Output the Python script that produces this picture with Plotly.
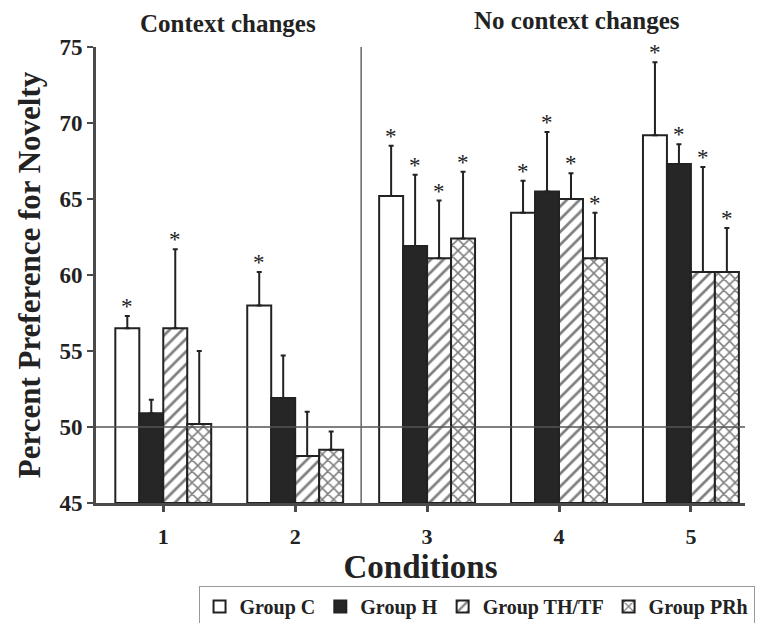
import plotly.graph_objects as go

conditions = [1, 2, 3, 4, 5]
tick_labels = ["1", "2", "3", "4", "5"]
groups = ["Group C", "Group H", "Group TH/TF", "Group PRh"]

group_c = [56.5, 58.0, 65.2, 64.1, 69.2]
group_h = [50.9, 51.9, 61.9, 65.5, 67.3]
group_th = [56.5, 48.1, 61.1, 65.0, 60.2]
group_prh = [50.2, 48.5, 62.4, 61.1, 60.2]

err_c = [0.8, 2.2, 3.3, 2.1, 4.8]
err_h = [0.9, 2.8, 4.7, 3.9, 1.3]
err_th = [5.2, 2.9, 3.8, 1.7, 6.9]
err_prh = [4.8, 1.2, 4.4, 3.0, 2.9]

sig_c = [True, True, True, True, True]
sig_h = [False, False, True, True, True]
sig_th = [True, False, True, True, True]
sig_prh = [False, False, True, True, True]

values = [group_c, group_h, group_th, group_prh]
errors = [err_c, err_h, err_th, err_prh]
sigs = [sig_c, sig_h, sig_th, sig_prh]

FONT = "Liberation Serif"
DARK = "#222222"
AX = "#4a4a4a"
BARGAP = 0.273
n = len(groups)
bw = (1 - BARGAP) / n

styles = [
    dict(color="white", pattern=None),
    dict(color="#262626", pattern=None),
    dict(color="white", pattern=dict(shape="/", fgcolor="#000000", bgcolor="white", size=9, solidity=0.3)),
    dict(color="white", pattern=dict(shape="x", fgcolor="#000000", bgcolor="white", size=8, solidity=0.35)),
]

fig = go.Figure()
for i, g in enumerate(groups):
    marker = dict(color=styles[i]["color"], line=dict(color=DARK, width=2))
    if styles[i]["pattern"]:
        marker["pattern"] = styles[i]["pattern"]
    fig.add_trace(go.Bar(
        x=conditions, y=[v - 45 for v in values[i]], base=45, name=g,
        marker=marker,
        error_y=dict(type="data", symmetric=False, array=errors[i],
                     arrayminus=[0] * len(conditions), color=DARK, thickness=2, width=2.5),
    ))

# significance stars above the error bars
for i in range(n):
    off = (i - (n - 1) / 2) * bw
    for j, c in enumerate(conditions):
        if sigs[i][j]:
            fig.add_annotation(x=c + off, y=values[i][j] + errors[i][j], text="*",
                               showarrow=False, xanchor="center", yanchor="bottom", yshift=-5,
                               font=dict(family=FONT, size=23, color=DARK))

fig.add_shape(type="line", xref="paper", yref="y", x0=0, x1=1, y0=50, y1=50,
              line=dict(color="#555555", width=1.5))
fig.add_shape(type="line", xref="x", yref="paper", x0=2.5, x1=2.5, y0=0, y1=1,
              line=dict(color="#666666", width=1.5))

fig.add_annotation(text="Context changes", xref="paper", yref="paper", x=0.203, y=1.052,
                   xanchor="center", yanchor="middle", showarrow=False,
                   font=dict(family=FONT, size=25, color=DARK, weight="bold"))
fig.add_annotation(text="No context changes", xref="paper", yref="paper", x=0.741, y=1.059,
                   xanchor="center", yanchor="middle", showarrow=False,
                   font=dict(family=FONT, size=25, color=DARK, weight="bold"))

# page body has an 8px margin, so the figure is drawn 8px smaller and shifted
fig.update_layout(
    width=755, height=615,
    margin=dict(l=88, r=18, t=39, b=120, autoexpand=False),
    paper_bgcolor="white", plot_bgcolor="white",
    barmode="group", bargap=BARGAP, bargroupgap=0,
    font=dict(family=FONT, color=DARK),
    legend=dict(orientation="h", x=0.158, y=-0.182, xanchor="left", yanchor="top",
                bordercolor="#999999", borderwidth=1,
                font=dict(family=FONT, size=20, color=DARK, weight="bold"),
                itemwidth=30, tracegroupgap=0),
    xaxis=dict(range=[0.49, 5.41], tickvals=conditions, ticktext=tick_labels,
               showline=True, linecolor=AX, linewidth=3, showgrid=False, zeroline=False,
               ticks="outside", ticklen=6, tickwidth=3, tickcolor=AX, ticklabelstandoff=6,
               tickfont=dict(family=FONT, size=22, color=DARK, weight="bold"),
               title=dict(text="Conditions", font=dict(family=FONT, size=33, color=DARK, weight="bold"),
                          standoff=6)),
    yaxis=dict(range=[45, 75], dtick=5, showline=True, linecolor=AX, linewidth=3,
               showgrid=False, zeroline=False, ticks="outside", ticklen=6, tickwidth=2, tickcolor=AX,
               tickfont=dict(family=FONT, size=23, color=DARK, weight="bold"),
               title=dict(text="Percent Preference for Novelty",
                          font=dict(family=FONT, size=31, color=DARK, weight="bold"), standoff=10)),
)

fig.write_html("out.html")
